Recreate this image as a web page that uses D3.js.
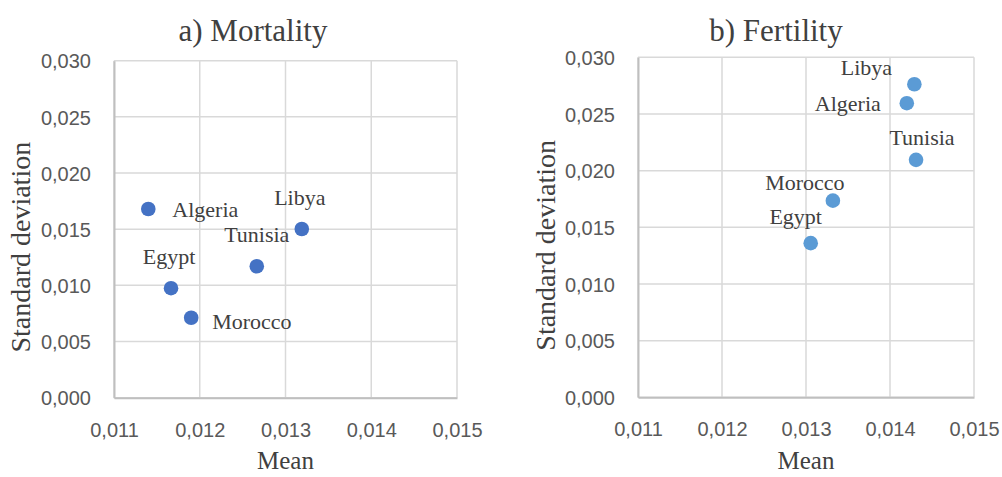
<!DOCTYPE html>
<html>
<head>
<meta charset="utf-8">
<script src="https://cdn.jsdelivr.net/npm/d3@7"></script>
<style>
  body { margin: 0; background: #fff; }
  svg { display: block; }
</style>
</head>
<body>
<div class="chart"></div>
<script>
// data
const countries = ["Algeria", "Egypt", "Libya", "Morocco", "Tunisia"];
const mortalityMean = [0.01140, 0.011665, 0.01319, 0.01190, 0.012665];
const mortalitySD   = [0.01680, 0.00975, 0.01502, 0.00712, 0.01170];
const fertilityMean = [0.01420, 0.013056, 0.01429, 0.01332, 0.01431];
const fertilitySD   = [0.02595, 0.01360, 0.02762, 0.01735, 0.02095];
const xTicks = [0.011, 0.012, 0.013, 0.014, 0.015];
const yTicks = [0, 0.005, 0.010, 0.015, 0.020, 0.025, 0.030];

// label placement (pixel offsets from point), per panel
const mortalityLabels = {
  Algeria: {dx: 24, dy: 8, anchor: "start"},
  Egypt:   {dx: -2, dy: -24, anchor: "middle"},
  Libya:   {dx: -2, dy: -24, anchor: "middle"},
  Morocco: {dx: 21, dy: 11, anchor: "start"},
  Tunisia: {dx: 0, dy: -24, anchor: "middle"}
};
const fertilityLabels = {
  Algeria: {dx: -26, dy: 8, anchor: "end"},
  Egypt:   {dx: -15, dy: -19, anchor: "middle"},
  Libya:   {dx: -48, dy: -9, anchor: "middle"},
  Morocco: {dx: -28, dy: -11, anchor: "middle"},
  Tunisia: {dx: 6, dy: -15, anchor: "middle"}
};

const svg = d3.select(".chart").append("svg")
  .attr("width", 1002).attr("height", 477);

const serif = "'Liberation Serif', 'Times New Roman', serif";
const sans = "'Liberation Sans', Arial, sans-serif";
const fmt = v => d3.format(".3f")(v).replace(".", ",");

function panel(opt) {
  const x = d3.scaleLinear().domain([0.011, 0.015]).range([opt.left, opt.right]);
  const y = d3.scaleLinear().domain([0, 0.030]).range([opt.bottom, opt.top]);
  const g = svg.append("g");

  // grid
  g.selectAll(".vgrid").data(xTicks).enter().append("line")
    .attr("x1", d => x(d)).attr("x2", d => x(d))
    .attr("y1", opt.top).attr("y2", opt.bottom)
    .attr("stroke", "#d9d9d9").attr("stroke-width", 1.5);
  g.selectAll(".hgrid").data(yTicks).enter().append("line")
    .attr("x1", opt.left).attr("x2", opt.right)
    .attr("y1", d => y(d)).attr("y2", d => y(d))
    .attr("stroke", "#d9d9d9").attr("stroke-width", 1.5);

  // axes
  const xAxis = d3.axisBottom(x).tickValues(xTicks).tickFormat(fmt).tickSize(0).tickPadding(25);
  const yAxis = d3.axisLeft(y).tickValues(yTicks).tickFormat(fmt).tickSize(0).tickPadding(23);
  const gx = g.append("g").attr("transform", `translate(0,${opt.bottom})`).call(xAxis);
  const gy = g.append("g").attr("transform", `translate(${opt.left},0)`).call(yAxis);
  [gx, gy].forEach(a => {
    a.select(".domain").attr("stroke", "#bfbfbf").attr("stroke-width", 2);
    a.selectAll("text").attr("font-family", sans).attr("font-size", 20).attr("fill", "#595959");
  });
  gy.selectAll("text").attr("dy", "0.36em");

  // points
  g.selectAll("circle").data(countries).enter().append("circle")
    .attr("cx", (d, i) => x(opt.mean[i]))
    .attr("cy", (d, i) => y(opt.sd[i]))
    .attr("r", 7.3)
    .attr("fill", opt.color);

  g.selectAll(".lbl").data(countries).enter().append("text")
    .attr("x", (d, i) => x(opt.mean[i]) + opt.labels[d].dx)
    .attr("y", (d, i) => y(opt.sd[i]) + opt.labels[d].dy)
    .attr("text-anchor", d => opt.labels[d].anchor)
    .attr("font-family", serif).attr("font-size", 22).attr("fill", "#404040")
    .text(d => d);

  // titles
  g.append("text")
    .attr("x", opt.titleX).attr("y", 41)
    .attr("text-anchor", "middle")
    .attr("font-family", serif).attr("font-size", 31).attr("fill", "#404040")
    .text(opt.title);
  g.append("text")
    .attr("x", (opt.left + opt.right) / 2).attr("y", 469)
    .attr("text-anchor", "middle")
    .attr("font-family", serif).attr("font-size", 25).attr("fill", "#404040")
    .text("Mean");
  g.append("text")
    .attr("transform", `translate(${opt.yLabelX},${(opt.top + opt.bottom) / 2 + 18}) rotate(-90)`)
    .attr("text-anchor", "middle")
    .attr("font-family", serif).attr("font-size", 28).attr("fill", "#404040")
    .text("Standard deviation");
}

panel({
  left: 114, right: 457, top: 60.7, bottom: 397.7,
  mean: mortalityMean, sd: mortalitySD, labels: mortalityLabels,
  color: "#4472c4", title: "a) Mortality", titleX: 253, yLabelX: 30
});
panel({
  left: 638, right: 974, top: 57.3, bottom: 397.3,
  mean: fertilityMean, sd: fertilitySD, labels: fertilityLabels,
  color: "#5b9bd5", title: "b) Fertility", titleX: 776, yLabelX: 555
});
</script>
</body>
</html>
